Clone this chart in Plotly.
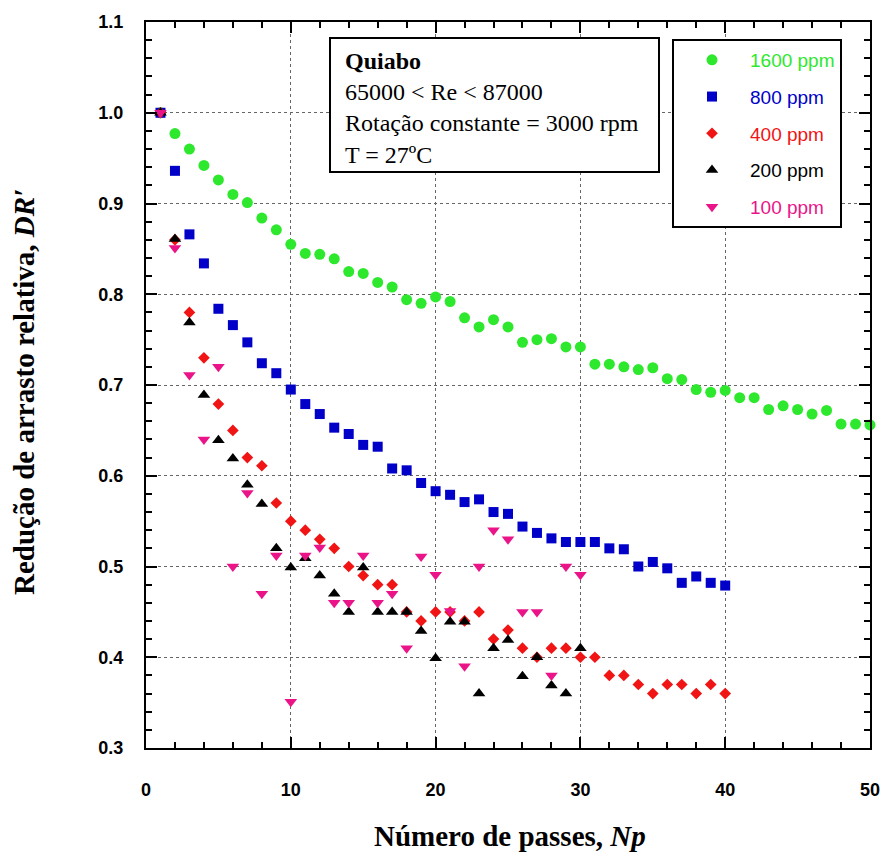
import plotly.graph_objects as go

# ---- data ----
np_1600 = list(range(1, 51))
dr_1600 = [1.0, 0.977, 0.960, 0.942, 0.926, 0.910, 0.901, 0.884, 0.871, 0.855,
           0.845, 0.844, 0.839, 0.825, 0.823, 0.813, 0.808, 0.794, 0.790, 0.797,
           0.792, 0.774, 0.764, 0.772, 0.764, 0.747, 0.750, 0.751, 0.742, 0.742,
           0.723, 0.723, 0.720, 0.717, 0.719, 0.707, 0.706, 0.695, 0.692, 0.694,
           0.686, 0.686, 0.673, 0.677, 0.673, 0.668, 0.672, 0.657, 0.657, 0.656]

np_800 = list(range(1, 41))
dr_800 = [1.0, 0.936, 0.866, 0.834, 0.784, 0.766, 0.747, 0.724, 0.713, 0.695,
          0.679, 0.668, 0.653, 0.646, 0.634, 0.632, 0.608, 0.606, 0.592, 0.583,
          0.579, 0.571, 0.574, 0.560, 0.558, 0.544, 0.537, 0.531, 0.527, 0.527,
          0.527, 0.520, 0.519, 0.500, 0.505, 0.498, 0.482, 0.489, 0.482, 0.479]

np_400 = list(range(1, 41))
dr_400 = [1.0, 0.86, 0.780, 0.730, 0.679, 0.650, 0.620, 0.611, 0.570, 0.550,
          0.540, 0.530, 0.520, 0.500, 0.490, 0.480, 0.480, 0.450, 0.440, 0.450,
          0.450, 0.440, 0.450, 0.420, 0.430, 0.410, 0.400, 0.410, 0.410, 0.400,
          0.400, 0.380, 0.380, 0.370, 0.360, 0.370, 0.370, 0.360, 0.370, 0.360]

np_200 = list(range(1, 31))
dr_200 = [1.0, 0.861, 0.769, 0.689, 0.639, 0.619, 0.590, 0.569, 0.520, 0.499,
          0.509, 0.490, 0.470, 0.450, 0.499, 0.450, 0.450, 0.450, 0.429, 0.399,
          0.439, 0.439, 0.360, 0.410, 0.419, 0.379, 0.400, 0.369, 0.360, 0.410]

np_100 = list(range(1, 31))
dr_100 = [1.0, 0.851, 0.711, 0.640, 0.720, 0.500, 0.581, 0.470, 0.512, 0.351,
          0.512, 0.521, 0.460, 0.460, 0.512, 0.460, 0.470, 0.410, 0.511, 0.491,
          0.451, 0.390, 0.500, 0.540, 0.530, 0.450, 0.450, 0.380, 0.500, 0.491]

series_names = ["1600 ppm", "800 ppm", "400 ppm", "200 ppm", "100 ppm"]
x_ticks = [0, 10, 20, 30, 40, 50]
y_ticks = [0.3, 0.4, 0.5, 0.6, 0.7, 0.8, 0.9, 1.0, 1.1]

# ---- styles ----
colors = ["#2ee82e", "#0000c8", "#f01414", "#000000", "#ea1488"]
symbols = ["circle", "square", "diamond", "triangle-up", "triangle-down"]
sizes = [11, 10, 9, 11, 11]

fig = go.Figure()
data = [(np_1600, dr_1600), (np_800, dr_800), (np_400, dr_400),
        (np_200, dr_200), (np_100, dr_100)]
for i, (xs, ys) in enumerate(data):
    fig.add_trace(go.Scatter(
        x=xs, y=ys, mode="markers",
        name=f'<span style="color:{colors[i]}">{series_names[i]}</span>',
        legendgroup=f"g{i}",
        marker=dict(symbol=symbols[i], size=sizes[i], color=colors[i],
                    line=dict(width=0)),
        cliponaxis=False,
    ))

# body margin is removed by post_script, so the figure fills the window
W, H = 882, 853
L, T = 146, 22
pw, ph = 724, 726
R = W - L - pw
B = H - T - ph


def px(xp):
    return (xp - 146) / pw


def py(yp):
    return (748 - yp) / ph


tickfont = dict(family="Arial, Liberation Sans, sans-serif", size=18,
                color="black", weight="bold")
axis_common = dict(
    showline=True, linecolor="black", linewidth=2, mirror="ticks",
    ticks="inside", ticklen=11, tickwidth=2, tickcolor="black",
    showgrid=True, gridcolor="#666666", griddash="dot", gridwidth=1,
    zeroline=False, tickfont=tickfont,
)

fig.update_xaxes(range=[0, 50], tickvals=x_ticks, ticklabelstandoff=24,
                 minor=dict(dtick=2, ticks="inside", ticklen=6, tickwidth=2,
                            tickcolor="black", showgrid=False),
                 **axis_common)
fig.update_yaxes(range=[0.3, 1.1], tickvals=y_ticks, tickformat=".1f",
                 ticklabelstandoff=17,
                 minor=dict(dtick=0.02, ticks="inside", ticklen=6, tickwidth=2,
                            tickcolor="black", showgrid=False),
                 **axis_common)

serif = "Liberation Serif, Times New Roman, serif"

fig.add_shape(type="rect", xref="paper", yref="paper",
              x0=px(330), x1=px(659), y0=py(172), y1=py(38),
              line=dict(color="black", width=2), fillcolor="white",
              layer="above")

fig.add_annotation(
    xref="paper", yref="paper", x=px(343), y=py(108),
    xanchor="left", yanchor="middle", align="left", showarrow=False,
    text="<b>Quiabo</b><br>65000 &lt; Re &lt; 87000<br>"
         "Rotação constante = 3000 rpm<br>T = 27ºC",
    font=dict(family=serif, size=24, color="black"),
)

fig.add_annotation(
    xref="paper", yref="paper", x=px(24), y=py(392),
    xanchor="center", yanchor="middle", textangle=-90, showarrow=False,
    text="<b>Redução de arrasto relativa, <i>DR′</i></b>",
    font=dict(family=serif, size=29, color="black"),
)
fig.add_annotation(
    xref="paper", yref="paper", x=px(510), y=py(836),
    xanchor="center", yanchor="middle", showarrow=False,
    text="<b>Número de passes, <i>Np</i></b>",
    font=dict(family=serif, size=29, color="black"),
)

fig.update_layout(
    width=W, height=H,
    margin=dict(l=L, r=R, t=T, b=B, autoexpand=False),
    paper_bgcolor="white", plot_bgcolor="white",
    showlegend=True,
    legend=dict(
        x=px(672), y=py(39), xanchor="left", yanchor="top",
        bgcolor="white", bordercolor="black", borderwidth=2,
        font=dict(family="Arial, Liberation Sans, sans-serif", size=19),
        itemwidth=66, traceorder="grouped", tracegroupgap=9,
    ),
)

fig.write_html(
    "out.html",
    config={"displayModeBar": False},
    post_script="document.body.style.margin='0';"
                "document.body.style.overflow='hidden';",
)
